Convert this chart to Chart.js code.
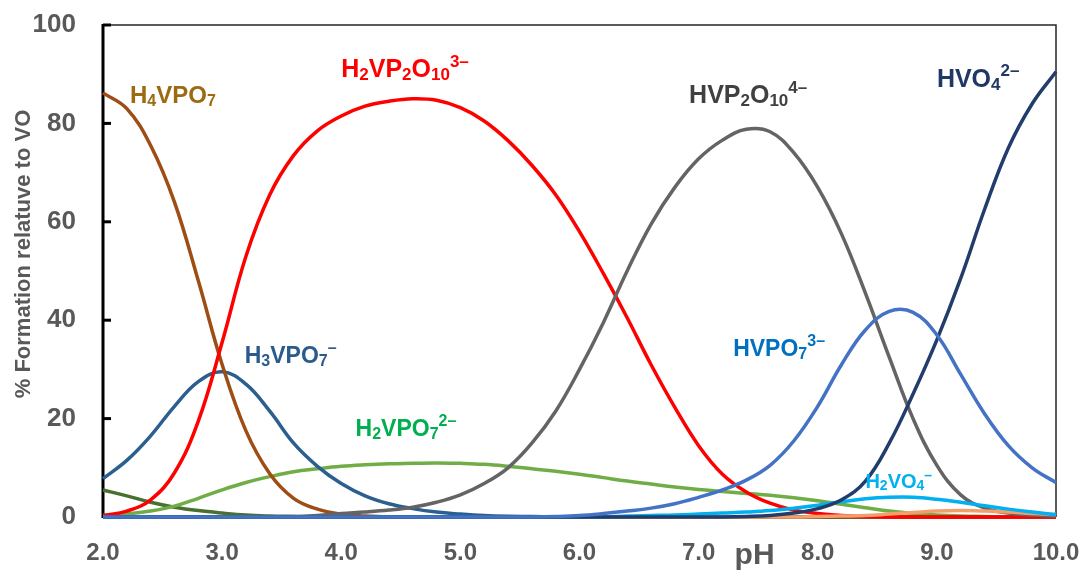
<!DOCTYPE html>
<html>
<head>
<meta charset="utf-8">
<script src="https://cdn.jsdelivr.net/npm/chart.js@4.4.1/dist/chart.umd.min.js"></script>
<style>
  html, body { margin: 0; padding: 0; background: #ffffff; }
  #wrap { width: 1084px; height: 573px; position: relative; }
</style>
</head>
<body>
<div id="wrap"><canvas id="c" width="1084" height="573"></canvas></div>
<script>
// ---- data (pH vs % formation) ----
const pH = [2.0,2.2,2.4,2.6,2.8,3.0,3.2,3.4,3.6,3.8,4.0,4.2,4.4,4.6,4.8,5.0,5.2,5.4,5.6,5.8,6.0,6.2,6.4,6.6,6.8,7.0,7.2,7.4,7.6,7.8,8.0,8.2,8.4,8.6,8.8,9.0,9.2,9.4,9.6,9.8,10.0];

const H4VPO7   = [86.2,83,75.5,64,48,31,17.5,8.8,3.8,1.6,0.6,0.2,0,0,0,0,0,0,0,0,0,0,0,0,0,0,0,0,0,0,0,0,0,0,0,0,0,0,0,0,0];
const H3VPO7   = [7.8,11.5,16.5,22.5,27.5,29.5,27,21.5,15,10.3,6.8,4.3,2.7,1.7,1.0,0.6,0.3,0.15,0.1,0.05,0,0,0,0,0,0,0,0,0,0,0,0,0,0,0,0,0,0,0,0,0];
const H2VPO7   = [0.3,0.6,1.2,2.2,3.8,5.5,7,8.2,9.2,9.8,10.3,10.6,10.8,10.9,11,10.9,10.7,10.3,9.8,9.3,8.7,8,7.3,6.7,6.1,5.6,5.2,4.8,4.4,3.9,3.3,2.6,1.9,1.2,0.7,0.4,0.2,0.1,0,0,0];
const unlabeledGreen = [5.5,4.3,3.0,2.0,1.3,0.8,0.4,0.2,0.1,0,0,0,0,0,0,0,0,0,0,0,0,0,0,0,0,0,0,0,0,0,0,0,0,0,0,0,0,0,0,0,0];
const H2VP2O10 = [0.3,1.2,3.5,9,19.5,35.5,53,65.5,73.5,78.5,81.5,83.5,84.5,85,84.7,83.2,80.5,76.5,71.5,65.5,58,49.5,40.5,31,22.3,14.5,8.7,5.1,2.8,1.4,0.7,0.3,0.1,0,0,0,0,0,0,0,0];
const HVP2O10  = [0,0,0,0,0,0,0,0,0.1,0.3,0.7,1,1.4,2,3,4.5,6.8,10,15,21.5,30,39.5,50,59.5,67,72.8,76.6,78.8,78.3,74,67,57.5,45.5,32.5,20,10.5,4.5,1.8,0.8,0.4,0.2];
const HVPO7    = [0,0,0,0,0,0,0,0,0,0,0,0,0,0,0,0,0,0,0,0.1,0.3,0.7,1.2,1.8,2.7,4,5.5,7.5,10.5,15.5,22.5,31,38,41.8,41.6,37,29,21,14.5,10,7];
const HVO4     = [0,0,0,0,0,0,0,0,0,0,0,0,0,0,0,0,0,0,0,0,0,0,0,0,0,0,0,0.1,0.3,0.8,1.7,3.5,7.3,15,25,36,48.5,62.5,75,84,90.5];
const H2VO4    = [0,0,0,0,0,0,0,0,0,0,0,0,0,0,0,0,0,0,0,0,0,0,0.2,0.3,0.4,0.6,0.8,1.0,1.3,1.8,2.4,3.1,3.7,4.0,4.0,3.6,3.0,2.3,1.6,1.0,0.5];
const unlabeledOrange = [0,0,0,0,0,0,0,0,0,0,0,0,0,0,0,0,0,0,0,0,0,0,0,0,0,0,0,0,0,0,0.1,0.2,0.3,0.6,0.9,1.2,1.3,1.2,1.0,0.7,0.5];

const xTicks = [2,3,4,5,6,7,8,9,10];
const yTicks = [0,20,40,60,80,100];

// ---- styles ----
const series = [
  { data: HVPO7,           color: '#4472C4' },
  { data: HVO4,            color: '#223D6B' },
  { data: H2VO4,           color: '#00B0F0' },
  { data: unlabeledOrange, color: '#F1A06B' },
  { data: HVP2O10,         color: '#646464' },
  { data: H2VP2O10,        color: '#FF0000' },
  { data: H4VPO7,          color: '#9E4D14' },
  { data: H3VPO7,          color: '#2B5F8F' },
  { data: H2VPO7,          color: '#70AD47' },
  { data: unlabeledGreen,  color: '#4A7030' }
];

const LABEL_FONT = "'Liberation Sans', Arial, sans-serif";
const AXIS_FONT = "'Liberation Sans Narrow', 'Liberation Sans', Arial, sans-serif";
const GRAY = '#595959';

// label parts: [text, kind] kind: n=normal, s=sub, p=super
const speciesLabels = [
  { at: [2.227, 84.1], size: 24, color: '#9C6A10', parts: [['H','n'],['4','s'],['VPO','n'],['7','s']] },
  { at: [4.00, 89.4],  size: 25, color: '#FF0000', parts: [['H','n'],['2','s'],['VP','n'],['2','s'],['O','n'],['10','s'],['3\u2013','p']] },
  { at: [6.92, 84.1],  size: 25, color: '#404040', parts: [['HVP','n'],['2','s'],['O','n'],['10','s'],['4\u2013','p']] },
  { at: [9.00, 87.4],  size: 25, color: '#203864', parts: [['HVO','n'],['4','s'],['2\u2013','p']] },
  { at: [3.19, 31.3],  size: 23, color: '#2A5B8C', parts: [['H','n'],['3','s'],['VPO','n'],['7','s'],['\u2013','p']] },
  { at: [4.12, 16.5],  size: 23, color: '#00B050', parts: [['H','n'],['2','s'],['VPO','n'],['7','s'],['2\u2013','p']] },
  { at: [7.29, 32.7],  size: 23, color: '#0070C0', parts: [['HVPO','n'],['7','s'],['3\u2013','p']] },
  { at: [8.40, 5.9],   size: 20, color: '#00B0F0', parts: [['H','n'],['2','s'],['VO','n'],['4','s'],['\u2013','p']] }
];

const decor = {
  id: 'decor',
  beforeDatasetsDraw(chart) {
    const { ctx, chartArea: a } = chart;
    const ys = chart.scales.y;
    ctx.save();
    ctx.strokeStyle = '#262626';
    ctx.lineWidth = 1.5;
    ctx.beginPath();
    ctx.moveTo(a.left, a.top); ctx.lineTo(a.right, a.top); ctx.lineTo(a.right, a.bottom);
    ctx.stroke();
    ctx.strokeStyle = '#000';
    ctx.lineWidth = 3;
    ctx.beginPath(); ctx.moveTo(a.left, a.top - 1); ctx.lineTo(a.left, a.bottom + 1); ctx.stroke();
    ctx.lineWidth = 2;
    ctx.beginPath(); ctx.moveTo(a.left, a.bottom); ctx.lineTo(a.right, a.bottom); ctx.stroke();
    ctx.lineWidth = 3;
    yTicks.forEach(v => {
      const y = ys.getPixelForValue(v);
      ctx.beginPath(); ctx.moveTo(a.left, y); ctx.lineTo(a.left + 8, y); ctx.stroke();
    });
    ctx.restore();
  },
  afterDraw(chart) {
    const { ctx } = chart;
    const xs = chart.scales.x, ys = chart.scales.y;
    ctx.save();
    speciesLabels.forEach(L => {
      let x = xs.getPixelForValue(L.at[0]);
      const y = ys.getPixelForValue(L.at[1]);
      ctx.fillStyle = L.color;
      ctx.textBaseline = 'alphabetic';
      ctx.textAlign = 'left';
      L.parts.forEach(([t, k]) => {
        let fs = L.size, dy = 0;
        if (k === 's') { fs = Math.round(L.size * 0.68); dy = L.size * 0.12; }
        if (k === 'p') { fs = Math.round(L.size * 0.68); dy = -L.size * 0.42; }
        ctx.font = 'bold ' + fs + 'px ' + LABEL_FONT;
        ctx.fillText(t, x, y + dy);
        x += ctx.measureText(t).width;
      });
    });
    ctx.fillStyle = GRAY;
    ctx.font = 'bold 30px ' + AXIS_FONT;
    ctx.textAlign = 'center';
    ctx.textBaseline = 'alphabetic';
    ctx.fillText('pH', xs.getPixelForValue(7.47), 564);
    ctx.translate(24, 254);
    ctx.rotate(-Math.PI / 2);
    ctx.font = 'bold 22px ' + AXIS_FONT;
    ctx.textBaseline = 'middle';
    ctx.fillText('% Formation relatuve to VO', 0, 0);
    ctx.restore();
  }
};

new Chart(document.getElementById('c'), {
  type: 'line',
  data: {
    datasets: series.map(s => ({
      data: s.data.map((v, i) => ({ x: pH[i], y: v })),
      borderColor: s.color,
      backgroundColor: s.color,
      borderWidth: 3.5,
      pointRadius: 0,
      fill: false,
      tension: 0.4,
      clip: 4
    }))
  },
  options: {
    responsive: false,
    animation: false,
    devicePixelRatio: 1,
    layout: { padding: { left: 0, top: 25, right: 28, bottom: 0 } },
    plugins: { legend: { display: false }, tooltip: { enabled: false } },
    scales: {
      x: {
        type: 'linear', min: 2, max: 10,
        afterFit: s => { s.height = 56; s.paddingLeft = 0; s.paddingRight = 0; },
        afterBuildTicks: s => { s.ticks = xTicks.map(v => ({ value: v })); },
        grid: { display: false, drawTicks: false },
        border: { display: false },
        ticks: {
          padding: 22,
          color: GRAY,
          font: { family: AXIS_FONT, size: 24, weight: 'bold' },
          callback: v => v.toFixed(1),
          maxRotation: 0
        }
      },
      y: {
        min: 0, max: 100,
        afterFit: s => { s.width = 103; s.paddingTop = 0; s.paddingBottom = 0; },
        afterBuildTicks: s => { s.ticks = yTicks.map(v => ({ value: v })); },
        grid: { display: false, drawTicks: false },
        border: { display: false },
        ticks: {
          padding: 27,
          color: GRAY,
          font: { family: AXIS_FONT, size: 26, weight: 'bold' }
        }
      }
    }
  },
  plugins: [decor]
});
</script>
</body>
</html>
